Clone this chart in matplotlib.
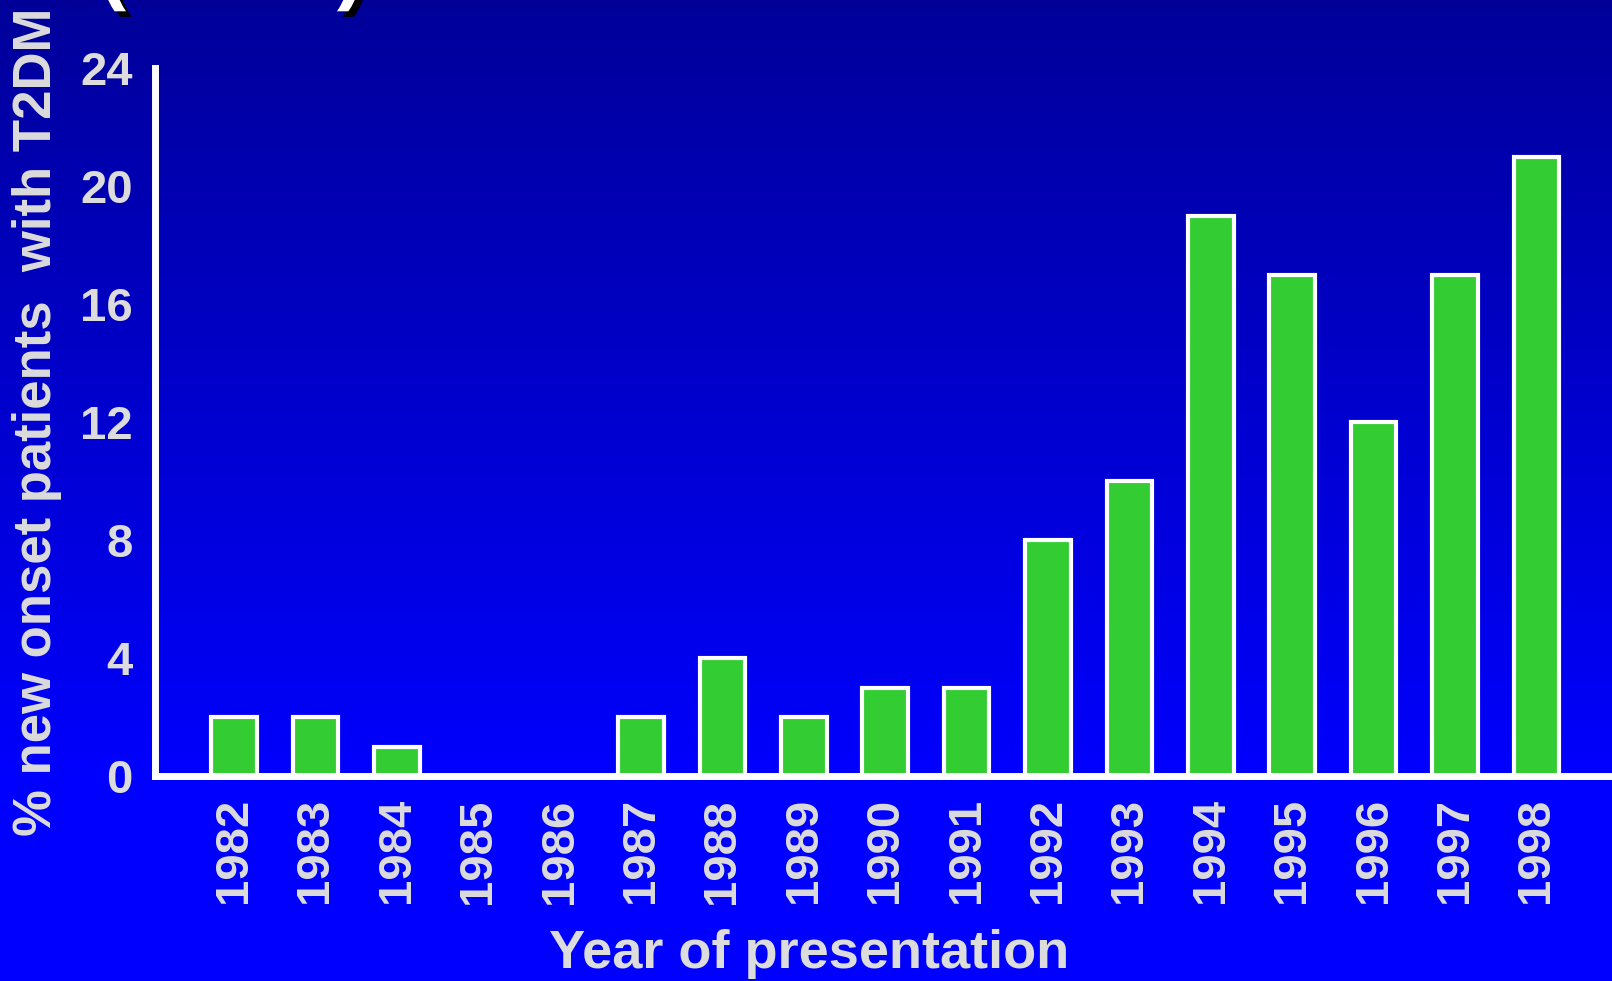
import numpy as np
import matplotlib.pyplot as plt
import matplotlib.patheffects as pe

plt.rcParams['font.family'] = ['Liberation Sans', 'DejaVu Sans']

years = ['1982', '1983', '1984', '1985', '1986', '1987', '1988', '1989', '1990',
         '1991', '1992', '1993', '1994', '1995', '1996', '1997', '1998']
pct_t2dm = [2, 2, 1, 0, 0, 2, 4, 2, 3, 3, 8, 10, 19, 17, 12, 17, 21]
yticks = [0, 4, 8, 12, 16, 20, 24]

TEXT = '#dcdcdc'
BAR = '#33cc33'

fig = plt.figure(figsize=(16.12, 9.81), dpi=100)

# blue gradient backdrop, dark at the top
bg = fig.add_axes([0, 0, 1, 1], zorder=-1)
frac = np.clip(np.linspace(0, 1, 256) / 0.8, 0, 1)
img = np.zeros((256, 1, 3))
img[:, 0, 2] = 0.60 + 0.40 * frac
bg.imshow(img, aspect='auto', extent=[0, 1, 0, 1])
bg.set_axis_off()

# cut-off slide title brackets along the top edge
for xp, s in [(0.061, '('), (0.209, ')')]:
    fig.text(xp, 1 - 11 / 981, s, fontsize=60, fontweight='bold', color='white',
             ha='left', va='bottom',
             path_effects=[pe.withSimplePatchShadow(offset=(4, -4), shadow_rgbFace='black', alpha=1)])

ax = fig.add_axes([155 / 1612, 205 / 981, 1 - 155 / 1612, 708 / 981])
ax.set_facecolor('none')
x = np.arange(len(years))
ax.bar(x, pct_t2dm, width=0.56, color=BAR, edgecolor='white', linewidth=3, zorder=2)

ax.set_xlim(-0.97, len(years) - 0.07)
ax.set_ylim(0, 24)
ax.set_yticks(yticks)
ax.set_xticks(x)
ax.set_xticklabels(years, rotation=90)
ax.tick_params(axis='both', length=0, labelcolor=TEXT, labelsize=34)
ax.tick_params(axis='y', pad=16)
ax.tick_params(axis='x', pad=16)
for lab in ax.get_xticklabels() + ax.get_yticklabels():
    lab.set_fontweight('bold')

for side in ['top', 'right']:
    ax.spines[side].set_visible(False)
for side in ['left', 'bottom']:
    ax.spines[side].set_color('white')
    ax.spines[side].set_linewidth(5)
    ax.spines[side].set_zorder(3)

fig.text(809 / 1612, 1 - 954 / 981, 'Year of presentation', fontsize=39,
         fontweight='bold', color=TEXT, ha='center', va='center')
fig.text(37 / 1612, 1 - 422 / 981, '% new onset patients  with T2DM', rotation=90,
         fontsize=38, fontweight='bold', color=TEXT, ha='center', va='center')

fig.savefig('out.png', dpi=100)
